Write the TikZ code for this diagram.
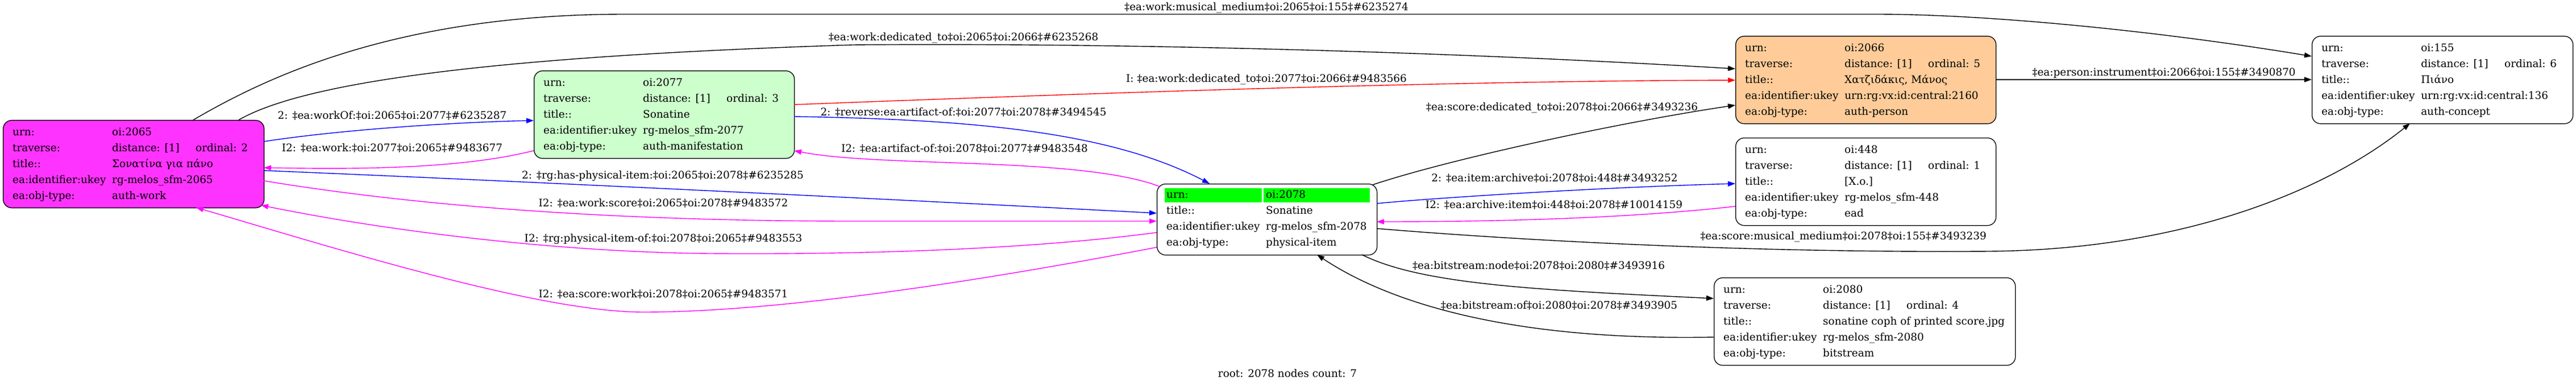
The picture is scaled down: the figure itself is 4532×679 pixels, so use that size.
\documentclass[tikz,border=0pt]{standalone}
\usepackage{fontspec}
\setmainfont{DejaVu Serif}
\usetikzlibrary{arrows.meta}
\definecolor{fmag}{RGB}{255,51,255}
\definecolor{emag}{RGB}{255,0,255}
\definecolor{fgreen}{RGB}{204,255,204}
\definecolor{forange}{RGB}{255,204,153}
\definecolor{bgreen}{RGB}{0,255,0}
\definecolor{eblue}{RGB}{0,0,255}
\definecolor{ered}{RGB}{255,0,0}
\newcommand{\ordl}[2]{\makebox[147pt][l]{#1}#2}
\newcommand{\tabrows}[1]{\begin{tabular}{@{}p{175pt}@{}l@{}}#1\end{tabular}}
\begin{document}
\begin{tikzpicture}[x=1pt,y=-1pt,
  box/.style={draw=black,line width=1.3pt,rounded corners=15pt,inner sep=0pt,anchor=north west,minimum height=154pt},
  txt/.style={inner sep=0pt,anchor=north west,font=\fontsize{18.4}{28}\selectfont},
  lab/.style={inner sep=0pt,font=\fontsize{18.4}{22}\selectfont},
  conn/.style={line width=1.4pt,-{Triangle[length=13pt,width=9pt]}},
  cell/.style={fill=bgreen,inner sep=0pt,anchor=north west,minimum height=25pt}
]
\useasboundingbox (0,0) rectangle (4532,679);

% boxes
\node[box,fill=fmag,minimum width=459pt] (n2065) at (5,211) {};
\node[box,fill=fgreen,minimum width=458pt] (n2077) at (939,124) {};
\node[box,fill=white,minimum width=387pt,minimum height=125pt] (n2078) at (2035,323) {};
\node[box,fill=forange,minimum width=458pt] (n2066) at (3053,63) {};
\node[box,fill=white,minimum width=458pt] (n448) at (3053,242) {};
\node[box,fill=white,minimum width=459pt] (n155) at (4067,63) {};
\node[box,fill=white,minimum width=530pt] (n2080) at (3015,488) {};
\node[cell,minimum width=171pt] (g2078a) at (2049,331) {};
\node[cell,minimum width=187pt] (g2078b) at (2223,331) {};

% contents
\node[txt] (t2065) at ([shift={(17,7.4)}]n2065.north west) {\tabrows{urn: & oi:2065\\ traverse: & \ordl{distance: [1]}{ordinal: 2}\\ title:: & Σονατίνα για πάνο\\ ea:identifier:ukey & rg-melos\_sfm-2065\\ ea:obj-type: & auth-work}};
\node[txt] (t2077) at ([shift={(17,7.4)}]n2077.north west) {\tabrows{urn: & oi:2077\\ traverse: & \ordl{distance: [1]}{ordinal: 3}\\ title:: & Sonatine\\ ea:identifier:ukey & rg-melos\_sfm-2077\\ ea:obj-type: & auth-manifestation}};
\node[txt] (t2078) at ([shift={(17,6)}]n2078.north west) {\tabrows{urn: & oi:2078\\ title:: & Sonatine\\ ea:identifier:ukey & rg-melos\_sfm-2078\\ ea:obj-type: & physical-item}};
\node[txt] (t2066) at ([shift={(17,7.4)}]n2066.north west) {\tabrows{urn: & oi:2066\\ traverse: & \ordl{distance: [1]}{ordinal: 5}\\ title:: & Χατζιδάκις, Μάνος\\ ea:identifier:ukey & urn:rg:vx:id:central:2160\\ ea:obj-type: & auth-person}};
\node[txt] (t448) at ([shift={(17,7.4)}]n448.north west) {\tabrows{urn: & oi:448\\ traverse: & \ordl{distance: [1]}{ordinal: 1}\\ title:: & [X.o.]\\ ea:identifier:ukey & rg-melos\_sfm-448\\ ea:obj-type: & ead}};
\node[txt] (t155) at ([shift={(17,7.4)}]n155.north west) {\tabrows{urn: & oi:155\\ traverse: & \ordl{distance: [1]}{ordinal: 6}\\ title:: & Πιάνο\\ ea:identifier:ukey & urn:rg:vx:id:central:136\\ ea:obj-type: & auth-concept}};
\node[txt] (t2080) at ([shift={(17,7.4)}]n2080.north west) {\tabrows{urn: & oi:2080\\ traverse: & \ordl{distance: [1]}{ordinal: 4}\\ title:: & sonatine coph of printed score.jpg\\ ea:identifier:ukey & rg-melos\_sfm-2080\\ ea:obj-type: & bitstream}};

% connectors
\draw[conn] ([shift={(335,0)}]n2065.north west) .. controls (470,135) and (700,25) .. (1100,25) -- (3300,25) .. controls (3500,25) and (3800,55) .. ([shift={(0,36)}]n155.north west);
\draw[conn] ([shift={(415,0)}]n2065.north west) .. controls (560,130) and (1000,95) .. (1500,79) .. controls (1800,76) and (2400,82) .. ([shift={(0,58)}]n2066.north west);
\draw[conn,eblue] ([shift={(459,38)}]n2065.north west) .. controls (600,228) and (800,215) .. ([shift={(0,88)}]n2077.north west);
\draw[conn,emag] ([shift={(0,141)}]n2077.north west) .. controls (800,300) and (600,297) .. ([shift={(459,84)}]n2065.north west);
\draw[conn,eblue] ([shift={(459,89)}]n2065.north west) .. controls (900,318) and (1600,352) .. ([shift={(0,52)}]n2078.north west);
\draw[conn,emag] ([shift={(459,107)}]n2065.north west) .. controls (750,365) and (1100,389) .. (1500,389) -- ([shift={(0,66)}]n2078.north west);
\draw[conn,emag] ([shift={(0,86)}]n2078.north west) .. controls (1800,440) and (1500,448) .. (1250,446) .. controls (1000,444) and (700,410) .. ([shift={(454,150)}]n2065.north west);
\draw[conn,emag] ([shift={(0,112)}]n2078.north west) .. controls (1800,480) and (1400,549) .. (1132,549) .. controls (950,549) and (600,440) .. ([shift={(340,154)}]n2065.north west);
\draw[conn,ered] ([shift={(458,60)}]n2077.north west) .. controls (1900,165) and (2500,143) .. ([shift={(0,78)}]n2066.north west);
\draw[conn,eblue] ([shift={(458,81)}]n2077.north west) .. controls (1700,210) and (1950,230) .. ([shift={(93,0)}]n2078.north west);
\draw[conn,emag] ([shift={(5,5)}]n2078.north west) .. controls (1900,275) and (1550,295) .. ([shift={(458,141)}]n2077.north west);
\draw[conn] ([shift={(380,2)}]n2078.north west) .. controls (2550,280) and (2850,215) .. ([shift={(0,122)}]n2066.north west);
\draw[conn,eblue] ([shift={(387,35)}]n2078.north west) .. controls (2500,350) and (2800,330) .. ([shift={(0,81)}]n448.north west);
\draw[conn,emag] ([shift={(0,121)}]n448.north west) .. controls (2900,380) and (2700,390) .. ([shift={(387,67)}]n2078.north west);
\draw[conn] ([shift={(387,79)}]n2078.north west) .. controls (2700,425) and (3100,445) .. (3500,442) .. controls (3850,439) and (4100,330) .. ([shift={(173,154)}]n155.north west);
\draw[conn] ([shift={(361,125)}]n2078.north west) .. controls (2500,500) and (2700,510) .. ([shift={(0,37)}]n2080.north west);
\draw[conn] ([shift={(0,105)}]n2080.north west) .. controls (2650,600) and (2440,530) .. ([shift={(282,125)}]n2078.north west);
\draw[conn] ([shift={(458,77)}]n2066.north west) -- ([shift={(0,77)}]n155.north west);

% labels
\node[lab] (l1) at (2228,14) {‡ea:work:musical\_medium‡oi:2065‡oi:155‡\#6235274};
\node[lab] (l2) at (1695,67) {‡ea:work:dedicated\_to‡oi:2065‡oi:2066‡\#6235268};
\node[lab] (l3) at (690,203) {2: ‡ea:workOf:‡oi:2065‡oi:2077‡\#6235287};
\node[lab] (l4) at (690,260) {I2: ‡ea:work:‡oi:2077‡oi:2065‡\#9483677};
\node[lab] (l5) at (1166,310) {2: ‡rg:has-physical-item:‡oi:2065‡oi:2078‡\#6235285};
\node[lab] (l6) at (1167,357) {I2: ‡ea:work:score‡oi:2065‡oi:2078‡\#9483572};
\node[lab] (l7) at (1167,421) {I2: ‡rg:physical-item-of:‡oi:2078‡oi:2065‡\#9483553};
\node[lab] (l8) at (1167,517) {I2: ‡ea:score:work‡oi:2078‡oi:2065‡\#9483571};
\node[lab] (l9) at (2228,140) {I: ‡ea:work:dedicated\_to‡oi:2077‡oi:2066‡\#9483566};
\node[lab] (l10) at (1695,197) {2: ‡reverse:ea:artifact-of:‡oi:2077‡oi:2078‡\#3494545};
\node[lab] (l11) at (1697,261) {I2: ‡ea:artifact-of:‡oi:2078‡oi:2077‡\#9483548};
\node[lab] (l12) at (2748,190) {‡ea:score:dedicated\_to‡oi:2078‡oi:2066‡\#3493236};
\node[lab] (l13) at (2735,313) {2: ‡ea:item:archive‡oi:2078‡oi:448‡\#3493252};
\node[lab] (l14) at (2734,360) {I2: ‡ea:archive:item‡oi:448‡oi:2078‡\#10014159};
\node[lab] (l15) at (3243,417) {‡ea:score:musical\_medium‡oi:2078‡oi:155‡\#3493239};
\node[lab] (l16) at (2707,467) {‡ea:bitstream:node‡oi:2078‡oi:2080‡\#3493916};
\node[lab] (l17) at (2743,537) {‡ea:bitstream:of‡oi:2080‡oi:2078‡\#3493905};
\node[lab] (l18) at (3807,129) {‡ea:person:instrument‡oi:2066‡oi:155‡\#3490870};
\node[lab] (foot) at (2265,657) {root: 2078 nodes count: 7};
\end{tikzpicture}
\end{document}
